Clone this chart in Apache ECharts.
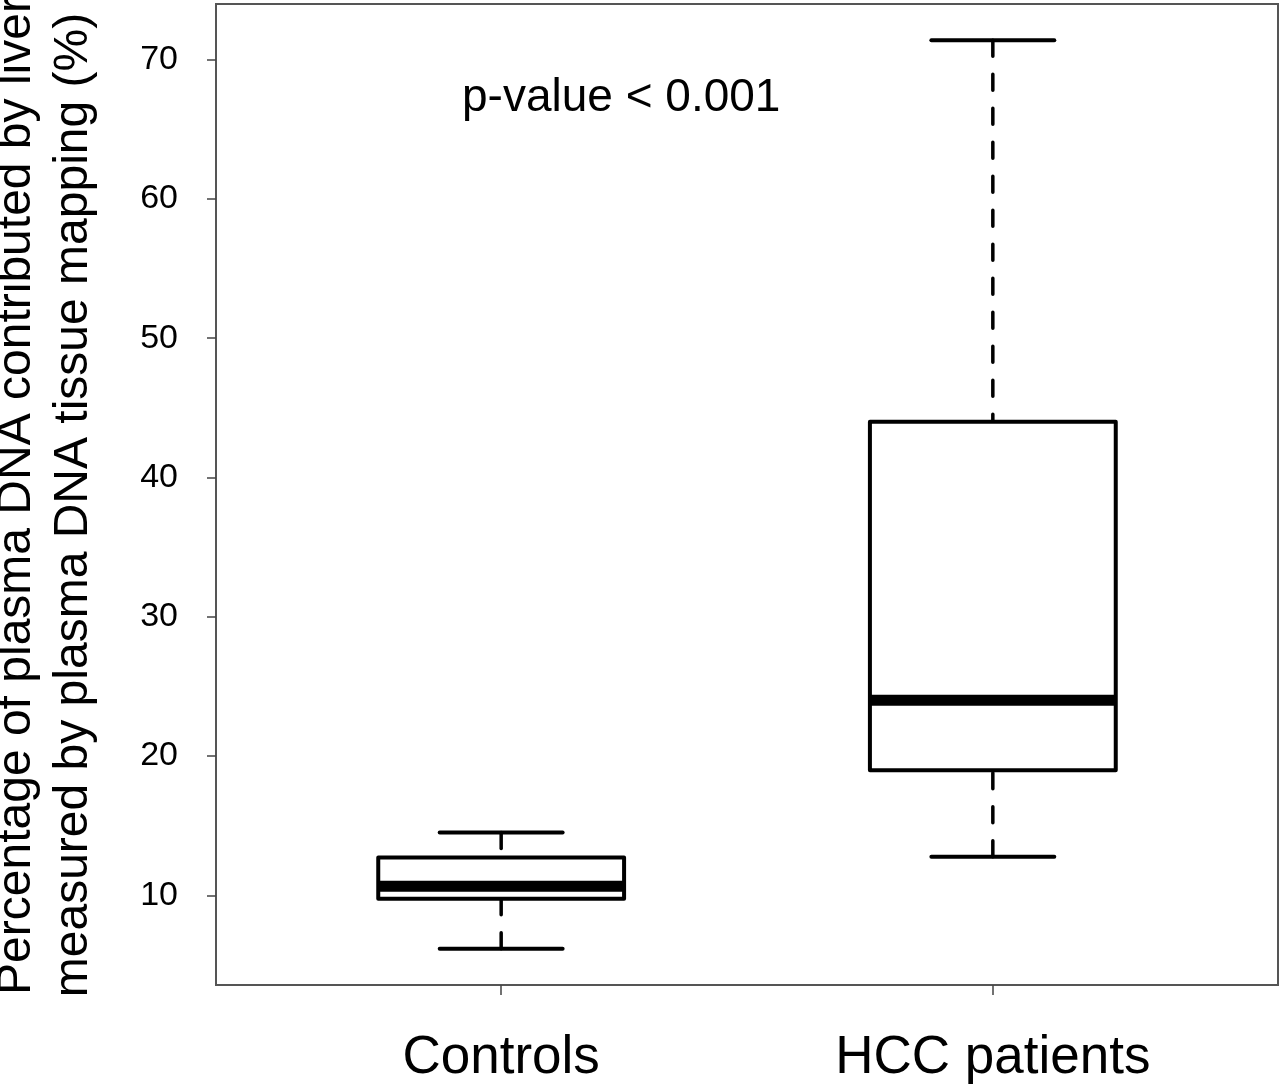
<!DOCTYPE html>
<html>
<head>
<meta charset="utf-8">
<script src="https://cdn.jsdelivr.net/npm/echarts@6/dist/echarts.min.js"></script>
<style>
  html, body { margin: 0; padding: 0; background: #fff; }
  #chart { width: 1280px; height: 1088px; }
</style>
</head>
<body>
<div id="chart"></div>
<script>
// box stats (%)
var categories = ['Controls', 'HCC patients'];
var lowWhisker = [6.17, 12.76];
var q1 = [9.76, 18.98];
var median = [10.65, 24.01];
var q3 = [12.71, 44.01];
var highWhisker = [14.51, 71.39];
var yTicks = [10, 20, 30, 40, 50, 60, 70];

var FONT = '"Liberation Sans", Arial, sans-serif';

var rows = categories.map(function (c, i) {
    return [i + 1, lowWhisker[i], q1[i], median[i], q3[i], highWhisker[i]];
});

function renderBox(params, api) {
    var x = api.value(0);
    var lo = api.value(1), b1 = api.value(2), md = api.value(3), b3 = api.value(4), hi = api.value(5);
    var half = 0.25, capHalf = 0.125;
    var p = function (xx, yy) { return api.coord([xx, yy]); };
    var dash = { stroke: '#000', lineWidth: 3.5, lineDash: [16, 18], lineCap: 'round' };
    var solid = { stroke: '#000', lineWidth: 4, lineCap: 'round' };
    var tl = p(x - half, b3), br = p(x + half, b1);
    return {
        type: 'group',
        children: [
            { type: 'line', shape: { x1: p(x, hi)[0], y1: p(x, hi)[1], x2: p(x, b3)[0], y2: p(x, b3)[1] }, style: dash },
            { type: 'line', shape: { x1: p(x, lo)[0], y1: p(x, lo)[1], x2: p(x, b1)[0], y2: p(x, b1)[1] }, style: dash },
            { type: 'line', shape: { x1: p(x - capHalf, hi)[0], y1: p(x, hi)[1], x2: p(x + capHalf, hi)[0], y2: p(x, hi)[1] }, style: solid },
            { type: 'line', shape: { x1: p(x - capHalf, lo)[0], y1: p(x, lo)[1], x2: p(x + capHalf, lo)[0], y2: p(x, lo)[1] }, style: solid },
            { type: 'rect', shape: { x: tl[0], y: tl[1], width: br[0] - tl[0], height: br[1] - tl[1] },
              style: { fill: '#fff', stroke: '#000', lineWidth: 4, lineJoin: 'round' } },
            { type: 'line', shape: { x1: tl[0], y1: p(x, md)[1], x2: br[0], y2: p(x, md)[1] },
              style: { stroke: '#000', lineWidth: 11, lineCap: 'butt' } }
        ]
    };
}

var chart = echarts.init(document.getElementById('chart'));
chart.setOption({
    backgroundColor: '#fff',
    animation: false,
    grid: {
        left: 216, right: 2, top: 4, bottom: 103,
        show: true, borderColor: '#555', borderWidth: 2, backgroundColor: '#fff'
    },
    xAxis: {
        type: 'value', min: 0.42, max: 2.58,
        axisLine: { show: false, onZero: false },
        splitLine: { show: false },
        axisTick: { show: true, customValues: [1, 2], length: 10, lineStyle: { color: '#444', width: 1.5 } },
        axisLabel: {
            customValues: [1, 2], margin: 47,
            formatter: function (v) { return categories[Math.round(v) - 1] || ''; },
            fontSize: 53, fontFamily: FONT, color: '#000'
        }
    },
    yAxis: {
        type: 'value', min: 3.56, max: 74.0,
        axisLine: { show: false, onZero: false },
        splitLine: { show: false },
        axisTick: { show: true, customValues: yTicks, length: 9, lineStyle: { color: '#444', width: 1.5 } },
        axisLabel: {
            customValues: yTicks, margin: 38,
            fontSize: 34, fontFamily: FONT, color: '#000'
        }
    },
    graphic: [
        { type: 'text', x: 17, y: 496, rotation: Math.PI / 2,
          style: { text: 'Percentage of plasma DNA contributed by liver', font: '48px ' + FONT, fill: '#000',
                   align: 'center', verticalAlign: 'middle', textAlign: 'center', textVerticalAlign: 'middle' } },
        { type: 'text', x: 74, y: 505, rotation: Math.PI / 2,
          style: { text: 'measured by plasma DNA tissue mapping (%)', font: '48px ' + FONT, fill: '#000',
                   align: 'center', verticalAlign: 'middle', textAlign: 'center', textVerticalAlign: 'middle' } },
        { type: 'text', x: 462, y: 98,
          style: { text: 'p-value < 0.001', font: '46px ' + FONT, fill: '#000',
                   align: 'left', verticalAlign: 'middle', textAlign: 'left', textVerticalAlign: 'middle' } }
    ],
    series: [{
        type: 'custom',
        renderItem: renderBox,
        encode: { x: 0, y: [1, 2, 3, 4, 5] },
        data: rows,
        silent: true
    }]
});
</script>
</body>
</html>
